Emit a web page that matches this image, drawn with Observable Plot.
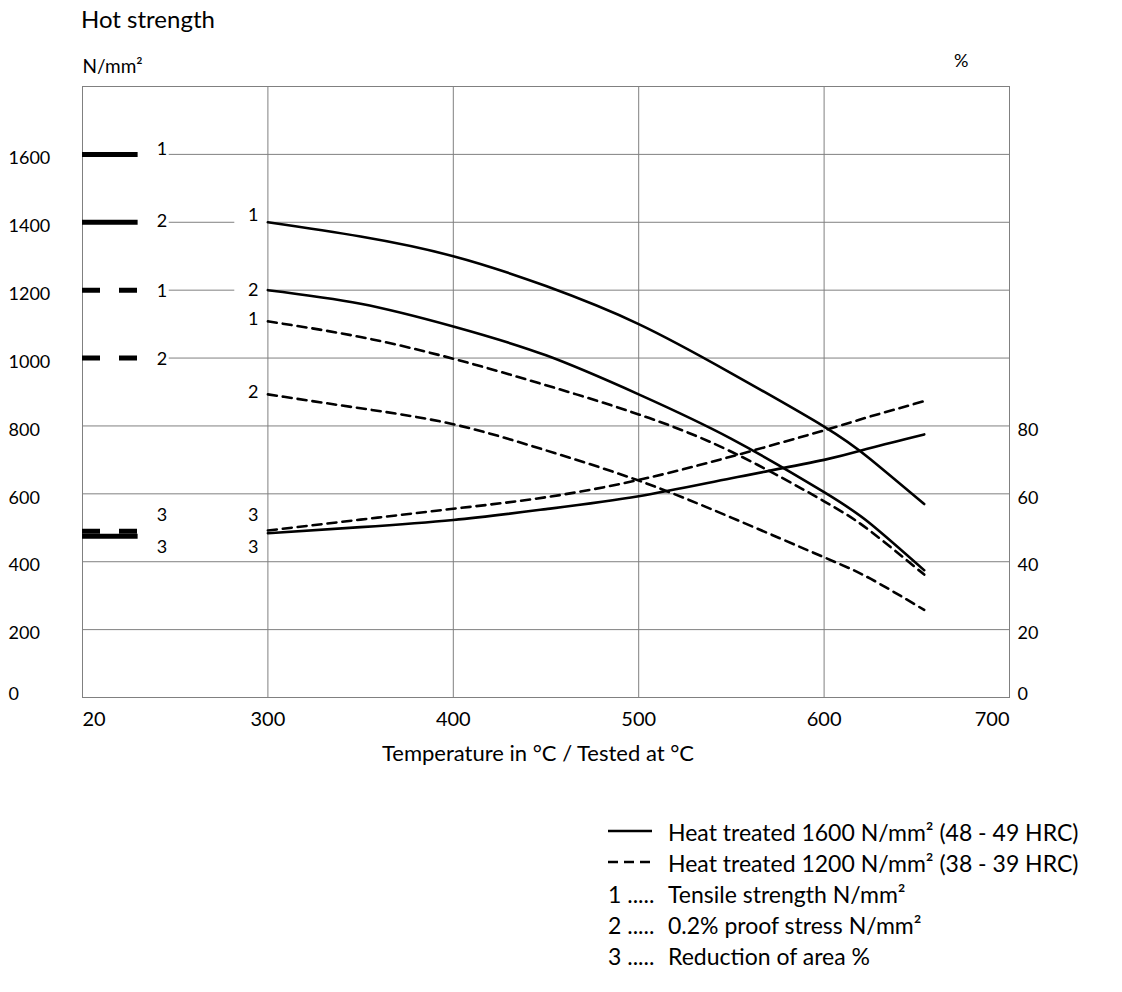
<!DOCTYPE html>
<html>
<head>
<meta charset="utf-8">
<script src="https://cdn.jsdelivr.net/npm/d3@7"></script>
<script src="https://cdn.jsdelivr.net/npm/@observablehq/plot@0.6"></script>
<style>
  html, body { margin: 0; padding: 0; background: #fff; }
  #wrap { position: relative; width: 1122px; height: 992px; font-family: Lato, "Open Sans", sans-serif; color: #000; }
  #title { position: absolute; left: 81px; top: 5px; font-size: 24px; line-height: 28px; }
  #chart { position: absolute; left: 0; top: 0; }
  #legend { position: absolute; left: 608px; top: 817px; font-size: 23px; }
  #legend .row { height: 31px; line-height: 31px; white-space: nowrap; display: flex; align-items: center; }
  #legend .key { display: inline-block; width: 60px; flex: none; }
  #legend svg { margin-right: 16px; flex: none; }
</style>
</head>
<body>
<div id="wrap">
  <div id="chart"></div>
  <div id="title">Hot strength</div>
  <div id="legend"></div>
</div>
<script>
// ---- data (temperatures in °C, strengths in N/mm², reduction of area in %) ----
const temps = [300, 350, 400, 450, 500, 550, 600, 625, 654];
const tensile1600 = [1400, 1358, 1300, 1212, 1100, 955, 798, 702, 570];
const proof1600   = [1200, 1160, 1093, 1008, 893, 762, 605, 512, 375];
const tensile1200 = [1108, 1062, 998, 920, 834, 724, 578, 490, 362];
const proof1200   = [893, 852, 805, 728, 639, 530, 413, 350, 258];
const area1600    = [48.4, 50.2, 52.3, 55.5, 59.3, 64.6, 70, 73.5, 77.5];
const area1200    = [49.2, 52.4, 55.6, 59, 64.1, 71, 78.7, 82.8, 87.3];

const xTicks = [20, 300, 400, 500, 600, 700];
const yTicks = [0, 200, 400, 600, 800, 1000, 1200, 1400, 1600];
const pctTicks = [0, 20, 40, 60, 80];

// key samples drawn in the 20–300 cell
const sampleSolidY = [1600, 1400];
const sampleDashedY = [1200, 1000];
const sampleArea1600 = 47.5;
const sampleArea1200 = 49;
const sampleX = [20, 104];

// curve labels
const leftLabels = [
  {text: "1", y: 1615}, {text: "2", y: 1402}, {text: "1", y: 1196}, {text: "2", y: 996},
  {text: "3", y: 536}, {text: "3", y: 443}
];
const rightLabels = [
  {text: "1", y: 1420}, {text: "2", y: 1200}, {text: "1", y: 1114}, {text: "2", y: 900},
  {text: "3", y: 536}, {text: "3", y: 443}
];
const leftLabelX = 140;
const rightLabelX = 278;

const legendItems = [
  {key: "solid", text: "Heat treated 1600 N/mm² (48 - 49 HRC)"},
  {key: "dashed", text: "Heat treated 1200 N/mm² (38 - 39 HRC)"},
  {key: "1", text: "Tensile strength N/mm²"},
  {key: "2", text: "0.2% proof stress N/mm²"},
  {key: "3", text: "Reduction of area %"}
];

// ---- build ----
const pctToN = p => p * 10;
const series = (vals, f = v => v) => temps.map((t, i) => ({t, v: f(vals[i])}));
const solidRows = [
  ...series(tensile1600).map(d => ({...d, s: "t"})),
  ...series(proof1600).map(d => ({...d, s: "p"})),
  ...series(area1600, pctToN).map(d => ({...d, s: "a"}))
];
const dashedRows = [
  ...series(tensile1200).map(d => ({...d, s: "t"})),
  ...series(proof1200).map(d => ({...d, s: "p"})),
  ...series(area1200, pctToN).map(d => ({...d, s: "a"}))
];

const W = 1122, H = 780, mL = 82, mR = 113, mT = 86, mB = 83;
const cell = (W - mL - mR) / 5;
const grid = "#808080";
const fs = 18;
const fmt = d => String(d);

const plot = Plot.plot({
  width: W, height: H,
  marginLeft: mL, marginRight: mR, marginTop: mT, marginBottom: mB,
  style: {fontFamily: "Lato, sans-serif", fontSize: fs + "px", color: "#000", background: "#fff"},
  x: {type: "linear", domain: [20, 300, 700], range: [mL, mL + cell, W - mR], axis: null, label: null},
  y: {domain: [0, 1800], axis: null, label: null},
  marks: [
    Plot.ruleY(yTicks.filter(d => d > 0), {stroke: grid, strokeWidth: 1}),
    Plot.ruleY([...sampleSolidY, ...sampleDashedY], {x1: 20, x2: 151, stroke: "white", strokeWidth: 3}),
    Plot.ruleY([tensile1600[0], proof1600[0]], {x1: 250, x2: 299, stroke: "white", strokeWidth: 3}),
    Plot.ruleX(xTicks.slice(1, -1), {stroke: grid, strokeWidth: 1}),
    Plot.frame({stroke: grid, strokeWidth: 1}),
    // key samples
    Plot.ruleY(sampleSolidY, {x1: sampleX[0], x2: sampleX[1], stroke: "black", strokeWidth: 5}),
    Plot.ruleY(sampleDashedY, {x1: sampleX[0], x2: sampleX[1], stroke: "black", strokeWidth: 5, strokeDasharray: "18,19"}),
    Plot.ruleY([pctToN(sampleArea1600)], {x1: sampleX[0], x2: sampleX[1], stroke: "black", strokeWidth: 5}),
    Plot.ruleY([pctToN(sampleArea1200)], {x1: sampleX[0], x2: sampleX[1], stroke: "black", strokeWidth: 5, strokeDasharray: "18,19"}),
    // curves
    Plot.line(solidRows, {x: "t", y: "v", z: "s", stroke: "black", strokeWidth: 2.6, curve: "natural"}),
    Plot.line(dashedRows, {x: "t", y: "v", z: "s", stroke: "black", strokeWidth: 2.6, strokeDasharray: "9,6", curve: "natural"}),
    // curve labels
    Plot.text(leftLabels, {x: leftLabelX, y: "y", text: "text", fontSize: fs, fill: "black"}),
    Plot.text(rightLabels, {x: rightLabelX, y: "y", text: "text", fontSize: fs, fill: "black"}),
    // left axis
    Plot.axisY(yTicks.filter(d => d > 0), {anchor: "left", label: null, tickSize: 0, tickPadding: 0, tickFormat: fmt, textAnchor: "start", dx: -74, dy: 4, fontSize: fs}),
    Plot.axisY([0], {anchor: "left", label: null, tickSize: 0, tickPadding: 0, tickFormat: fmt, textAnchor: "start", dx: -74, dy: -3, fontSize: fs}),
    // right axis (%)
    Plot.axisY(pctTicks.filter(d => d > 0).map(pctToN), {anchor: "right", label: null, tickSize: 0, tickPadding: 8, tickFormat: d => String(d / 10), dy: 4, fontSize: fs}),
    Plot.axisY([0], {anchor: "right", label: null, tickSize: 0, tickPadding: 8, tickFormat: fmt, dy: -3, fontSize: fs}),
    // x axis
    Plot.axisX([xTicks[0]], {label: null, tickSize: 0, tickPadding: 14, tickFormat: fmt, textAnchor: "start", fontSize: fs + 2}),
    Plot.axisX(xTicks.slice(1, -1), {label: null, tickSize: 0, tickPadding: 14, tickFormat: fmt, fontSize: fs + 2}),
    Plot.axisX([xTicks[xTicks.length - 1]], {label: null, tickSize: 0, tickPadding: 14, tickFormat: fmt, textAnchor: "end", fontSize: fs + 2}),
    // axis titles
    Plot.text(["N/mm²"], {frameAnchor: "top-left", dy: -14, textAnchor: "start", lineAnchor: "bottom", fontSize: fs + 1}),
    Plot.text(["%"], {frameAnchor: "top-right", dx: -41, dy: -20, lineAnchor: "bottom", fontSize: fs}),
    Plot.text(["Temperature in °C / Tested at °C"], {frameAnchor: "bottom", dx: -8, dy: 63, fontSize: fs + 4})
  ]
});
document.getElementById("chart").appendChild(plot);

// legend
const legend = document.getElementById("legend");
for (const item of legendItems) {
  const row = document.createElement("div");
  row.className = "row";
  if (item.key === "solid" || item.key === "dashed") {
    const ns = "http://www.w3.org/2000/svg";
    const s = document.createElementNS(ns, "svg");
    s.setAttribute("width", 44); s.setAttribute("height", 10);
    const l = document.createElementNS(ns, "line");
    l.setAttribute("x1", 0); l.setAttribute("x2", 44); l.setAttribute("y1", 3); l.setAttribute("y2", 3);
    l.setAttribute("stroke", "black"); l.setAttribute("stroke-width", 2.5);
    if (item.key === "dashed") l.setAttribute("stroke-dasharray", "10,6");
    s.appendChild(l);
    row.appendChild(s);
  } else {
    const k = document.createElement("span");
    k.className = "key";
    k.textContent = item.key + " .....";
    row.appendChild(k);
  }
  row.appendChild(document.createTextNode(item.text));
  legend.appendChild(row);
}
</script>
</body>
</html>
